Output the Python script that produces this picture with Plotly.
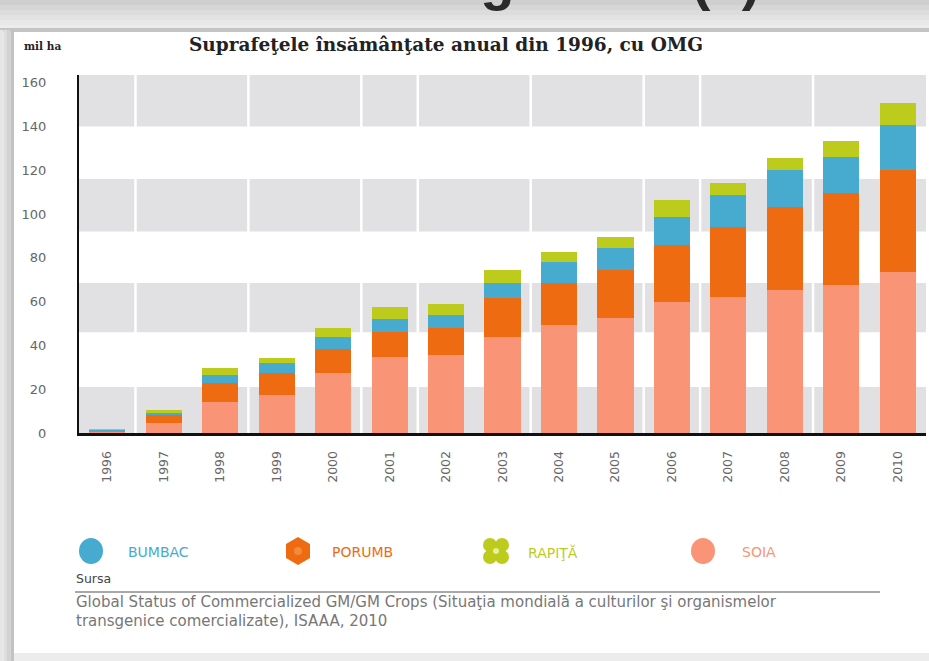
import plotly.graph_objects as go

# Annual GM crop area (million ha), stacked by crop
years = ["1996", "1997", "1998", "1999", "2000", "2001", "2002", "2003",
         "2004", "2005", "2006", "2007", "2008", "2009", "2010"]
soia = [0.5, 4.5, 14.2, 17.5, 27.4, 34.8, 35.6, 44.0, 49.3, 52.4, 60.0, 62.2, 65.3, 67.6, 73.7]
porumb = [0.3, 3.5, 8.6, 9.9, 11.0, 11.5, 12.3, 17.6, 19.1, 22.0, 25.8, 32.0, 38.0, 41.8, 46.4]
bumbac = [0.8, 1.3, 3.7, 4.6, 5.4, 5.7, 6.0, 6.9, 9.8, 9.9, 13.0, 14.5, 16.8, 16.5, 20.5]
rapita = [0.1, 1.2, 3.2, 2.4, 4.1, 5.7, 4.9, 5.9, 4.6, 5.3, 7.6, 5.3, 5.3, 7.6, 9.9]
y_ticks = [0, 20, 40, 60, 80, 100, 120, 140, 160]
band_ranges = [(0, 21), (46, 68.5), (92, 116), (140, 163.5)]

C_SOIA = "#f99576"
C_PORUMB = "#ee6b12"
C_BUMBAC = "#47abcf"
C_RAPITA = "#bdcb1c"

W, H = 929, 661
L, R, T, B = 79, 926, 75, 433


def px(x):
    return (x - L) / (R - L)


def py(y):
    return (B - y) / (B - T)


fig = go.Figure()
for name, vals, col in [("SOIA", soia, C_SOIA), ("PORUMB", porumb, C_PORUMB),
                        ("BUMBAC", bumbac, C_BUMBAC), ("RAPIŢĂ", rapita, C_RAPITA)]:
    fig.add_trace(go.Bar(x=years, y=vals, name=name, marker=dict(color=col, line=dict(width=0)),
                         width=0.64))

shapes = []
# frame: top strip and left shadow
for i, g in enumerate(["#cfcfcf", "#d6d6d6", "#dcdcdc", "#e2e2e2", "#e8e8e8", "#ececec"]):
    shapes.append(dict(type="rect", xref="paper", yref="paper", x0=px(0), x1=px(W),
                       y0=py(i * 5), y1=py(i * 5 + 5), fillcolor=g, line=dict(width=0), layer="below"))
shapes.append(dict(type="rect", xref="paper", yref="paper", x0=px(0), x1=px(W),
                   y0=py(28), y1=py(32), fillcolor="#c4c4c4", line=dict(width=0), layer="below"))
for i, g in enumerate(["#e6e6e6", "#dedede", "#d2d2d2", "#c2c2c2"]):
    shapes.append(dict(type="rect", xref="paper", yref="paper", x0=px(i * 3.5), x1=px(i * 3.5 + 3.5),
                       y0=py(30), y1=py(H), fillcolor=g, line=dict(width=0), layer="below"))
shapes.append(dict(type="rect", xref="paper", yref="paper", x0=px(14), x1=px(W),
                   y0=py(653), y1=py(H), fillcolor="#ececec", line=dict(width=0), layer="below"))

# alternating horizontal bands
for lo, hi in band_ranges:
    shapes.append(dict(type="rect", xref="paper", yref="y", x0=0, x1=1, y0=lo, y1=hi,
                       fillcolor="#e1e1e3", line=dict(width=0), layer="below"))
for b in [0.5, 2.5, 4.5, 5.5, 7.5, 9.5, 10.5, 12.5]:
    shapes.append(dict(type="line", xref="x", yref="paper", x0=b, x1=b, y0=0, y1=1,
                       line=dict(color="white", width=2.5), layer="below"))

# source rule
shapes.append(dict(type="line", xref="paper", yref="paper", x0=px(75), x1=px(880),
                   y0=py(592), y1=py(592), line=dict(color="#a8a8a8", width=2)))

# legend icons
icon_y = py(551)
shapes.append(dict(type="circle", xref="paper", yref="paper", xsizemode="pixel", ysizemode="pixel",
                   xanchor=px(91), yanchor=icon_y, x0=-12, x1=12, y0=-13, y1=13,
                   fillcolor=C_BUMBAC, line=dict(width=0)))
hexpath = "M 0 14 L 12 7 L 12 -7 L 0 -14 L -12 -7 L -12 7 Z"
shapes.append(dict(type="path", xref="paper", yref="paper", xsizemode="pixel", ysizemode="pixel",
                   xanchor=px(298), yanchor=icon_y, path=hexpath,
                   fillcolor=C_PORUMB, line=dict(width=0)))
shapes.append(dict(type="circle", xref="paper", yref="paper", xsizemode="pixel", ysizemode="pixel",
                   xanchor=px(298), yanchor=icon_y, x0=-4, x1=4, y0=-4, y1=4,
                   fillcolor="#f58a3a", line=dict(width=0)))
for dx, dy in [(-6, -6), (6, -6), (-6, 6), (6, 6)]:
    shapes.append(dict(type="circle", xref="paper", yref="paper", xsizemode="pixel", ysizemode="pixel",
                       xanchor=px(496), yanchor=icon_y, x0=dx - 7, x1=dx + 7, y0=dy - 7, y1=dy + 7,
                       fillcolor=C_RAPITA, line=dict(width=0)))
shapes.append(dict(type="circle", xref="paper", yref="paper", xsizemode="pixel", ysizemode="pixel",
                   xanchor=px(496), yanchor=icon_y, x0=-3, x1=3, y0=-3, y1=3,
                   fillcolor="#e6ee9a", line=dict(width=0)))
shapes.append(dict(type="circle", xref="paper", yref="paper", xsizemode="pixel", ysizemode="pixel",
                   xanchor=px(703), yanchor=icon_y, x0=-12, x1=12, y0=-13, y1=13,
                   fillcolor=C_SOIA, line=dict(width=0)))

annotations = [
    dict(text="<b>Plante modificate genetic (1)</b>", x=px(380), y=py(-21), xref="paper", yref="paper",
         xanchor="center", yanchor="middle", showarrow=False,
         font=dict(family="Liberation Sans", size=56, color="#2a2a2a")),
    dict(text="<b>mil ha</b>", x=px(22), y=py(46), xref="paper", yref="paper", xanchor="left",
         yanchor="middle", showarrow=False, font=dict(family="DejaVu Serif", size=10.5, color="#222")),
    dict(text="<b>Suprafeţele însămânţate anual din 1996, cu OMG</b>", x=px(446), y=py(45),
         xref="paper", yref="paper", xanchor="center", yanchor="middle", showarrow=False,
         font=dict(family="DejaVu Serif", size=18.5, color="#222")),
    dict(text="Sursa", x=px(74), y=py(578), xref="paper", yref="paper", xanchor="left", yanchor="middle",
         showarrow=False, font=dict(family="DejaVu Sans", size=12.5, color="#444")),
    dict(text="Global Status of Commercialized GM/GM Crops (Situaţia mondială a culturilor şi organismelor",
         x=px(74), y=py(602), xref="paper", yref="paper", xanchor="left", yanchor="middle",
         showarrow=False, font=dict(family="DejaVu Sans", size=15, color="#777")),
    dict(text="transgenice comercializate), ISAAA, 2010", x=px(74), y=py(621), xref="paper",
         yref="paper", xanchor="left", yanchor="middle", showarrow=False,
         font=dict(family="DejaVu Sans", size=15, color="#777")),
]
for label, xpos, col in [("BUMBAC", 126, C_BUMBAC), ("PORUMB", 330, C_PORUMB),
                         ("RAPIŢĂ", 526, C_RAPITA), ("SOIA", 740, C_SOIA)]:
    annotations.append(dict(text=label, x=px(xpos), y=py(552), xref="paper", yref="paper",
                            xanchor="left", yanchor="middle", showarrow=False,
                            font=dict(family="DejaVu Sans", size=14, color=col)))

fig.update_layout(
    width=W, height=H,
    barmode="stack",
    showlegend=False,
    paper_bgcolor="white",
    plot_bgcolor="white",
    margin=dict(l=L, r=W - R, t=T, b=H - B, pad=0),
    shapes=shapes,
    annotations=annotations,
    xaxis=dict(type="category", range=[-0.5, 14.5], showgrid=False, showline=True,
               linecolor="#111", linewidth=3, ticks="", tickangle=-90, ticklabelstandoff=10,
               tickfont=dict(family="DejaVu Sans", size=12.5, color="#666")),
    yaxis=dict(range=[0, 163.5], tickvals=y_ticks, showgrid=False, zeroline=False, showline=True,
               linecolor="#111", linewidth=2, ticks="", ticklabelstandoff=28,
               tickfont=dict(family="DejaVu Sans", size=13, color="#666")),
)

fig.write_html("out.html")
